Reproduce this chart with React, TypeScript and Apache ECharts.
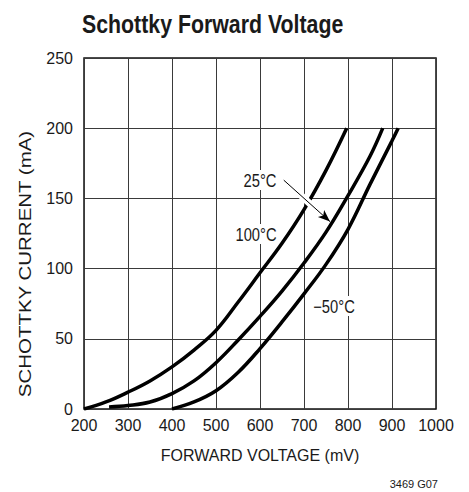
import React, { useEffect, useRef } from "react";
import * as echarts from "echarts";

// Schottky forward voltage (mV) vs current (mA)
const curve100C: [number, number][] = [
  [200, 0], [250, 5], [300, 12], [350, 20], [400, 30], [450, 42],
  [500, 56], [550, 76], [600, 97], [650, 118], [700, 142], [750, 170], [797, 200],
];
const curve25C: [number, number][] = [
  [257, 1.5], [300, 2.5], [350, 5], [400, 11], [450, 20], [500, 33], [550, 49],
  [600, 66], [650, 84], [700, 104], [750, 126], [800, 152], [850, 180], [879, 200],
];
const curveMinus50C: [number, number][] = [
  [400, 0], [450, 5], [500, 13], [550, 26], [600, 43], [650, 62], [700, 82],
  [750, 103], [800, 128], [850, 160], [900, 191], [914, 200],
];
// arrow from the "25°C" label to its curve (data coordinates)
const arrowStart: [number, number] = [654, 163];
const arrowEnd: [number, number] = [759, 133.5];
const haloStart: [number, number] = [680, 156];
const haloEnd: [number, number] = [728, 142];

const seriesLabels = ["100°C", "25°C", "−50°C"];

const FONT = "'Liberation Sans', Arial, sans-serif";
const INK = "#1a1a1a";
const NARROW = 0.82;

export default function App() {
  const ref = useRef<HTMLDivElement>(null);
  useEffect(() => {
    if (!ref.current) return;
    const chart = echarts.init(ref.current, null, { renderer: "svg" });
    const curveStyle = { color: "#000", width: 3.5 };
    const mkCurve = (name: string, data: [number, number][]) => ({
      name,
      type: "line",
      data,
      showSymbol: false,
      smooth: 0.4,
      lineStyle: curveStyle,
      silent: true,
    });
    const label = (text: string, x: number, y: number) => ({
      type: "text",
      x,
      y,
      z: 100,
      scaleX: NARROW,
      style: {
        text,
        font: `18px ${FONT}`,
        fill: INK,
        align: "center",
        verticalAlign: "middle",
        backgroundColor: "#fff",
        padding: [1, 2],
      },
    });
    chart.setOption({
      animation: false,
      backgroundColor: "#fff",
      grid: {
        left: 84,
        right: 33,
        top: 58,
        bottom: 83,
        show: true,
        borderColor: "#111",
        borderWidth: 1.5,
        containLabel: false,
      },
      xAxis: {
        type: "value",
        min: 200,
        max: 1000,
        interval: 100,
        axisLine: { show: false },
        axisTick: { show: false },
        splitLine: { show: true, lineStyle: { color: "#3a3a3a", width: 1 } },
        axisLabel: {
          color: INK,
          fontFamily: FONT,
          fontSize: 16,
          margin: 8,
          formatter: (v: number) => String(v),
        },
      },
      yAxis: {
        type: "value",
        min: 0,
        max: 250,
        interval: 50,
        axisLine: { show: false },
        axisTick: { show: false },
        splitLine: { show: true, lineStyle: { color: "#3a3a3a", width: 1 } },
        axisLabel: { color: INK, fontFamily: FONT, fontSize: 16, margin: 11 },
      },
      series: [
        mkCurve(seriesLabels[0], curve100C),
        mkCurve(seriesLabels[1], curve25C),
        mkCurve(seriesLabels[2], curveMinus50C),
        {
          type: "line",
          data: [],
          markLine: {
            silent: true,
            symbol: ["none", "none"],
            label: { show: false },
            lineStyle: { color: "#fff", width: 7, type: "solid" },
            data: [[{ coord: haloStart }, { coord: haloEnd }]],
          },
        },
        {
          type: "line",
          data: [],
          markLine: {
            silent: true,
            symbol: ["none", "arrow"],
            symbolSize: [7, 12],
            label: { show: false },
            lineStyle: { color: "#000", width: 1, type: "solid" },
            data: [[{ coord: arrowStart }, { coord: arrowEnd }]],
          },
        },
      ],
      graphic: [
        {
          type: "text",
          x: 82,
          y: 24,
          z: 100,
          scaleX: NARROW,
          style: {
            text: "Schottky Forward Voltage",
            font: `bold 26px ${FONT}`,
            fill: INK,
            verticalAlign: "middle",
            align: "left",
          },
        },
        {
          type: "text",
          x: 260,
          y: 455,
          z: 100,
          style: {
            text: "FORWARD VOLTAGE (mV)",
            font: `16px ${FONT}`,
            fill: INK,
            align: "center",
            verticalAlign: "middle",
          },
        },
        {
          type: "text",
          x: 25.5,
          y: 264,
          rotation: Math.PI / 2,
          scaleX: 1.28,
          z: 100,
          style: {
            text: "SCHOTTKY CURRENT (mA)",
            font: `16px ${FONT}`,
            fill: INK,
            align: "center",
            verticalAlign: "middle",
          },
        },
        {
          type: "text",
          x: 438,
          y: 484,
          z: 100,
          style: {
            text: "3469 G07",
            font: `11px ${FONT}`,
            fill: INK,
            align: "right",
            verticalAlign: "middle",
          },
        },
        label(seriesLabels[1], 260, 180),
        label(seriesLabels[0], 256, 234),
        label(seriesLabels[2], 334, 306),
      ],
    });
    return () => chart.dispose();
  }, []);
  return (
    <div
      ref={ref}
      style={{ position: "fixed", left: 0, top: 0, width: 469, height: 492, background: "#fff" }}
    />
  );
}
